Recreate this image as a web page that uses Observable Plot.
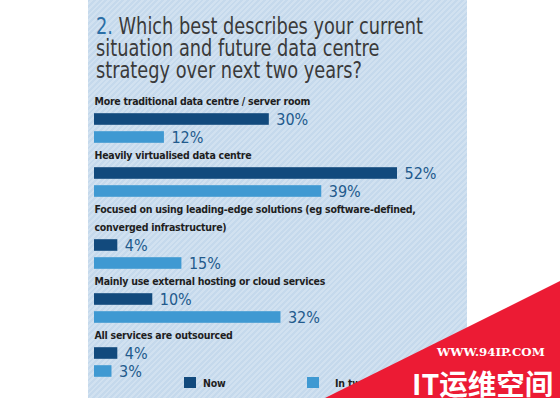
<!DOCTYPE html>
<html><head><meta charset="utf-8">
<script src="https://cdn.jsdelivr.net/npm/d3@7"></script>
<script src="https://cdn.jsdelivr.net/npm/@observablehq/plot@0.6"></script>
<style>
html,body{margin:0;padding:0;background:#fff;}
#root{position:relative;width:560px;height:398px;overflow:hidden;background:#fff;}
#panel{position:absolute;left:88px;top:0;width:379px;height:398px;
 background:repeating-linear-gradient(135deg,#c5d9ec 0px,#c5d9ec 2px,#d1e1f0 2px,#d1e1f0 4px);}
#title{position:absolute;left:8px;top:15px;font-family:"DejaVu Sans Condensed",sans-serif;font-size:22.5px;line-height:22px;color:#3a3a3a;white-space:nowrap;transform-origin:0 0;}
#title .num{color:#2b6ea6}
#chart{position:absolute;left:0;top:88px;}
#legend{position:absolute;left:0;top:0;width:379px;height:398px;pointer-events:none;font-family:"DejaVu Sans Condensed",sans-serif;font-weight:bold;font-size:10.5px;color:#1e1e1e;}
.sw{position:absolute;width:12px;height:11px;}
.lt{position:absolute;white-space:nowrap;line-height:12px;letter-spacing:-0.2px;}
#wm{position:absolute;left:0;top:0;width:560px;height:398px;background:#ec1b34;clip-path:polygon(325px 398px,560px 281px,560px 398px);}
#wm1{position:absolute;left:437px;top:345px;font-family:"DejaVu Serif","Liberation Serif",serif;font-weight:bold;font-size:11.8px;color:#fff;white-space:nowrap;line-height:14px;}
#wm2{position:absolute;left:412px;top:365px;font-family:"Noto Sans CJK SC",sans-serif;font-weight:bold;font-size:28.5px;color:#fff;white-space:nowrap;line-height:36px;letter-spacing:0px;}
</style></head>
<body>
<div id="root">
  <div id="panel">
    <div id="title"><span id="t1"><span class="num">2.</span> Which best describes your current</span><br>situation and future data centre<br>strategy over next two years?</div>
    <div id="chart"></div>
    <div id="legend"></div>
  </div>
  <div id="wm"></div>
  <div id="wm1">WWW.94IP.COM</div>
  <div id="wm2">IT运维空间</div>
</div>
<script>
const categories = [
  "More traditional data centre / server room",
  "Heavily virtualised data centre",
  "Focused on using leading-edge solutions (eg software-defined,\nconverged infrastructure)",
  "Mainly use external hosting or cloud services",
  "All services are outsourced"
];
const nowValues = [30, 52, 4, 10, 4];
const twoYearValues = [12, 39, 15, 32, 3];
const seriesNames = ["Now", "In two years"];
const seriesColors = ["#124a7d", "#3f99d2"];

const rows = [], labels = [], bars = [];
categories.forEach((c, i) => {
  c.split("\n").forEach((line, j) => {
    const key = `c${i}l${j}`;
    rows.push(key);
    labels.push({row: key, text: line});
  });
  [nowValues[i], twoYearValues[i]].forEach((v, s) => {
    const key = `c${i}s${s}`;
    rows.push(key);
    bars.push({row: key, value: v, series: seriesNames[s]});
  });
});

const font = "'DejaVu Sans Condensed',sans-serif";
const chart = Plot.plot({
  width: 379, height: 296,
  marginLeft: 6, marginRight: 70, marginTop: 2, marginBottom: 3,
  style: {background: "transparent", overflow: "visible"},
  x: {domain: [0, 52], axis: null},
  y: {domain: rows, axis: null, padding: 0},
  color: {domain: seriesNames, range: seriesColors},
  marks: [
    Plot.barX(bars, {x: "value", y: "row", fill: "series", insetTop: 3.2, insetBottom: 3.2}),
    Plot.text(bars, {x: "value", y: "row", text: d => d.value + "%", dx: 7, textAnchor: "start",
      fill: "#225a8c", fontSize: 16, fontFamily: font}),
    Plot.text(labels, {x: 0, y: "row", text: "text", textAnchor: "start", fontWeight: "bold",
      fontSize: 10.5, fill: "#1e1e1e", fontFamily: font})
  ]
});
document.getElementById("chart").appendChild(chart);
const textGroups = chart.querySelectorAll('g[aria-label="text"]');
textGroups[textGroups.length - 1].style.letterSpacing = "-0.25px";

// fit title's first line to the reference width
const t1 = document.getElementById("t1");
const w = t1.getBoundingClientRect().width;
document.getElementById("title").style.transform = `scaleX(${327 / w})`;

const legend = document.getElementById("legend");
const legendPos = [[96, 115], [219, 247]];
seriesNames.forEach((name, i) => {
  const sw = document.createElement("div");
  sw.className = "sw";
  sw.style.left = legendPos[i][0] + "px";
  sw.style.top = "377px";
  sw.style.background = chart.scale("color").apply(name);
  legend.appendChild(sw);
  const t = document.createElement("div");
  t.className = "lt";
  t.style.left = legendPos[i][1] + "px";
  t.style.top = "377px";
  t.textContent = name;
  legend.appendChild(t);
});
</script>
</body></html>
